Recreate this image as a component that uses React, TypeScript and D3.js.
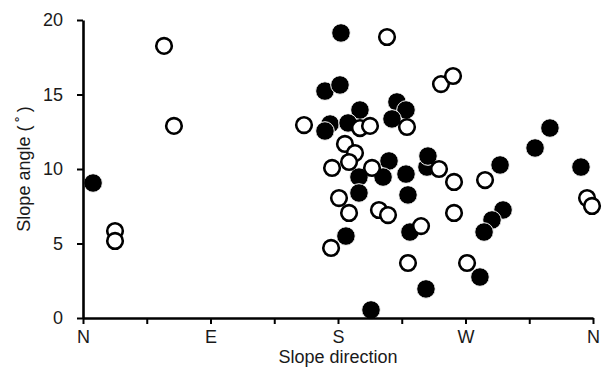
import React, { useEffect, useRef } from 'react';
import * as d3 from 'd3';

// slope direction (degrees from N, clockwise) and slope angle (degrees)
const filledPoints: [number, number][] = [
  [7.1, 9.06], [182.1, 19.13], [170.8, 15.23], [181.4, 15.64], [195.5, 13.96],
  [221.6, 14.5], [228.0, 13.96], [218.1, 13.36], [174.4, 13.02], [170.8, 12.55],
  [187.1, 13.09], [216.0, 10.54], [194.8, 9.46], [211.8, 9.46], [228.0, 9.66],
  [242.8, 10.13], [243.5, 10.87], [194.8, 8.39], [229.4, 8.26], [185.6, 5.5],
  [230.8, 5.77], [242.1, 1.95], [203.3, 0.54], [294.4, 10.27], [296.5, 7.25],
  [288.7, 6.58], [283.1, 5.77], [280.2, 2.75], [329.6, 12.75], [319.1, 11.41],
  [351.5, 10.13]
];

const openPoints: [number, number][] = [
  [57.2, 18.26], [64.2, 12.89], [22.6, 5.84], [22.6, 5.17], [156.0, 12.95],
  [214.6, 18.86], [252.7, 15.7], [261.2, 16.24], [228.7, 12.82], [195.5, 12.75],
  [202.6, 12.89], [184.9, 11.68], [192.0, 11.07], [187.8, 10.47], [175.8, 10.07],
  [204.0, 10.07], [251.3, 10.0], [261.9, 9.13], [180.7, 8.05], [187.8, 7.05],
  [208.9, 7.25], [215.3, 6.91], [175.1, 4.7], [238.6, 6.17], [229.4, 3.69],
  [271.1, 3.69], [261.9, 7.05], [283.8, 9.26], [355.8, 8.05], [359.3, 7.52]
];

const directionTicks = [0, 45, 90, 135, 180, 225, 270, 315, 360];
const directionLabels = ['N', '', 'E', '', 'S', '', 'W', '', 'N'];
const angleTicks = [0, 5, 10, 15, 20];

const WIDTH = 606;
const HEIGHT = 371;
const FONT = '"Liberation Sans", Arial, sans-serif';

export default function App() {
  const svgRef = useRef<SVGSVGElement>(null);

  useEffect(() => {
    const svg = d3.select(svgRef.current);
    svg.selectAll('*').remove();

    const margin = { top: 20, right: 13, bottom: 53, left: 83 };
    const width = WIDTH - margin.left - margin.right;
    const height = HEIGHT - margin.top - margin.bottom;

    const x = d3.scaleLinear().domain([0, 360]).range([0, width]);
    const y = d3.scaleLinear().domain([0, 20]).range([height, 0]);

    const g = svg.append('g').attr('transform', `translate(${margin.left},${margin.top})`);

    // points
    g.selectAll('.filled')
      .data(filledPoints)
      .enter()
      .append('circle')
      .attr('cx', d => x(d[0]))
      .attr('cy', d => y(d[1]))
      .attr('r', 9.3)
      .attr('fill', '#000')
      .attr('stroke', '#fff')
      .attr('stroke-width', 1);

    g.selectAll('.open')
      .data(openPoints)
      .enter()
      .append('circle')
      .attr('cx', d => x(d[0]))
      .attr('cy', d => y(d[1]))
      .attr('r', 7.8)
      .attr('fill', '#fff')
      .attr('stroke', '#000')
      .attr('stroke-width', 2.6);

    // x axis
    const xAxis = g.append('g')
      .attr('transform', `translate(0,${height})`)
      .call(
        d3.axisBottom(x)
          .tickValues(directionTicks)
          .tickSize(6)
          .tickSizeOuter(0)
          .tickFormat((d, i) => directionLabels[i])
      );
    xAxis.select('.domain').attr('stroke', '#000').attr('stroke-width', 2.6);
    xAxis.selectAll('.tick line').attr('stroke', '#000').attr('stroke-width', 2);
    xAxis.selectAll('.tick text')
      .attr('font-family', FONT)
      .attr('font-size', '18px')
      .attr('fill', '#1a1a1a')
      .attr('y', 12);

    // y axis
    const yAxis = g.append('g')
      .call(d3.axisLeft(y).tickValues(angleTicks).tickSize(6).tickSizeOuter(0));
    yAxis.select('.domain').attr('stroke', '#000').attr('stroke-width', 2.6);
    yAxis.selectAll('.tick line').attr('stroke', '#000').attr('stroke-width', 2);
    yAxis.selectAll('.tick text')
      .attr('font-family', FONT)
      .attr('font-size', '18px')
      .attr('fill', '#1a1a1a')
      .attr('x', -20);

    // axis titles
    g.append('text')
      .attr('x', width / 2)
      .attr('y', height + 45)
      .attr('text-anchor', 'middle')
      .attr('font-family', FONT)
      .attr('font-size', '18px')
      .attr('fill', '#1a1a1a')
      .text('Slope direction');

    g.append('text')
      .attr('transform', 'rotate(-90)')
      .attr('x', -height / 2)
      .attr('y', -53)
      .attr('text-anchor', 'middle')
      .attr('font-family', FONT)
      .attr('font-size', '18px')
      .attr('fill', '#1a1a1a')
      .text('Slope angle (\u2009\u02DA\u2009)');
  }, []);

  return (
    <svg
      ref={svgRef}
      width={WIDTH}
      height={HEIGHT}
      style={{ position: 'absolute', left: 0, top: 0, background: '#fff' }}
    />
  );
}
